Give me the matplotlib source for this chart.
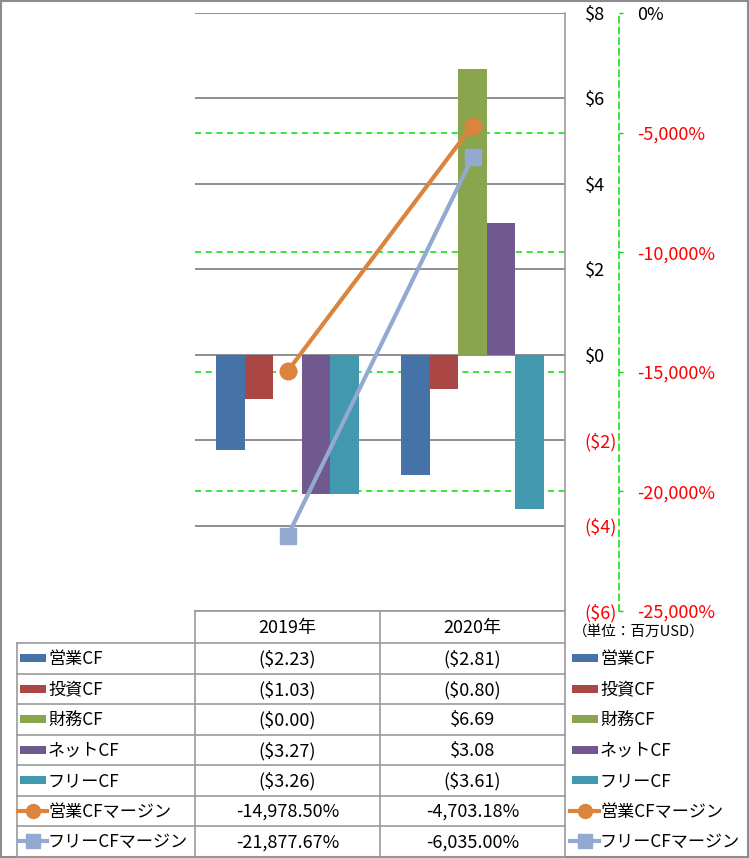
import matplotlib
matplotlib.use('Agg')
import matplotlib.pyplot as plt
from matplotlib.patches import Rectangle
from matplotlib.lines import Line2D
from matplotlib.transforms import blended_transform_factory

plt.rcParams['font.family'] = ['Noto Sans CJK JP', 'DejaVu Sans']

# Data
years = ['2019年', '2020年']
bar_names = ['営業CF', '投資CF', '財務CF', 'ネットCF', 'フリーCF']
bar_values = [
    [-2.23, -2.81],
    [-1.03, -0.80],
    [-0.002, 6.69],
    [-3.27, 3.08],
    [-3.26, -3.61],
]
bar_colors = ['#4572A7', '#AA4643', '#89A54E', '#71588F', '#4198AF']
line_names = ['営業CFマージン', 'フリーCFマージン']
line_values = [
    [-14978.50, -4703.18],
    [-21877.67, -6035.00],
]
line_colors = ['#DB843D', '#93A9CF']
line_markers = ['o', 's']
money_ticks = [-6, -4, -2, 0, 2, 4, 6, 8]
pct_ticks = [-25000, -20000, -15000, -10000, -5000, 0]
unit_note = '（単位：百万USD）'

W, H = 749, 858
fig = plt.figure(figsize=(W / 100, H / 100), dpi=100)


def fx(px):
    return px / W


def fy(py):
    return 1 - py / H


# plot area in pixels
pl, pr, pt, pb = 195, 565, 13, 611
ax = fig.add_axes([fx(pl), fy(pb), fx(pr - pl), (pb - pt) / H])
ax2 = ax.twinx()
# spine position first, it resets the ticks
ax2.spines['right'].set_position(('outward', 54 * 0.72))

n = len(bar_names)
w = 1 / (n + 1.5)
xs = list(range(len(years)))
for i, (name, vals, c) in enumerate(zip(bar_names, bar_values, bar_colors)):
    ax.bar([x + (i - (n - 1) / 2) * w for x in xs], vals, width=w, color=c, zorder=3)

ax.set_xlim(-0.5, len(years) - 0.5)
ax.set_ylim(min(money_ticks), max(money_ticks))
ax.set_xticks([])
ax.set_yticks(money_ticks)
ax.yaxis.tick_right()
ax.set_yticklabels(['$%d' % t if t >= 0 else '($%d)' % -t for t in money_ticks])
for lab, t in zip(ax.get_yticklabels(), money_ticks):
    lab.set_color('black' if t >= 0 else 'red')
ax.tick_params(axis='y', length=0, pad=14, labelsize=13)
for t in money_ticks:
    ax.axhline(t, color='#868686', lw=1.3, zorder=1)
for s in ['left', 'top', 'bottom', 'right']:
    ax.spines[s].set_visible(False)

# secondary gridlines under the bars
trans = blended_transform_factory(ax.transAxes, ax2.transData)
for t in pct_ticks[1:-1]:
    ax.plot([0, 1], [t, t], transform=trans, color='#00E000', lw=1.1,
            ls=(0, (4, 3)), zorder=2)

for name, vals, c, m in zip(line_names, line_values, line_colors, line_markers):
    ax2.plot(xs, vals, color=c, lw=3, marker=m, markersize=12,
             markeredgecolor=c, zorder=5)

ax2.set_ylim(min(pct_ticks), max(pct_ticks))
ax2.set_yticks(pct_ticks)
ax2.set_yticklabels(['{:,}%'.format(t) for t in pct_ticks])
ax2.tick_params(axis='y', length=3, width=1, color='#00E000', pad=10, labelsize=13)
for lab, t in zip(ax2.get_yticklabels(), pct_ticks):
    lab.set_color('black' if t >= 0 else 'red')
for s in ['left', 'top', 'bottom']:
    ax2.spines[s].set_visible(False)
ax2.spines['right'].set_color('#00E000')
ax2.spines['right'].set_linestyle((0, (4, 3)))
ax2.spines['right'].set_linewidth(1.1)

# overlay in pixel coordinates for the data table and legends
lay = fig.add_axes([0, 0, 1, 1], zorder=10)
lay.set_xlim(0, W)
lay.set_ylim(H, 0)
lay.axis('off')
lay.patch.set_visible(False)

gc = '#8C8C8C'
lay.add_patch(Rectangle((0.5, 0.5), W - 1.5, H - 1.5, fill=False, ec=gc, lw=1.5))

col_x = [17, 195, 380, 565]
head_top, head_bot = 611, 643
row_h = 30.5
nrows = n + len(line_names)
rows_y = [head_bot + k * row_h for k in range(nrows + 1)]

lc = '#9A9A9A'
lay.plot([col_x[1], col_x[3]], [head_top, head_top], color=lc, lw=1.2)
lay.plot([col_x[3], col_x[3]], [pt, rows_y[-1]], color=lc, lw=1.2)
for x in col_x[1:3]:
    lay.plot([x, x], [head_top, rows_y[-1]], color=lc, lw=1.2)
lay.plot([col_x[0], col_x[0]], [head_bot, rows_y[-1]], color=lc, lw=1.2)
for y in rows_y:
    lay.plot([col_x[0], col_x[3]], [y, y], color=lc, lw=1.2)

centers = [(col_x[1] + col_x[2]) / 2, (col_x[2] + col_x[3]) / 2]
for j, yr in enumerate(years):
    lay.text(centers[j], (head_top + head_bot) / 2 + 1, yr, ha='center', va='center', fontsize=13)

lay.text(573, 632, unit_note, ha='left', va='center', fontsize=10.5)


def money(v):
    return '($%.2f)' % -v if v < 0 else '$%.2f' % v


labels = bar_names + line_names
for k in range(nrows):
    yc = (rows_y[k] + rows_y[k + 1]) / 2
    if k < n:
        vals = [money(v) for v in bar_values[k]]
    else:
        vals = ['{:,.2f}%'.format(v) for v in line_values[k - n]]
    for j in range(len(years)):
        lay.text(centers[j], yc + 1, vals[j], ha='center', va='center', fontsize=13)
    for sx, tx in [(20, 48), (572, 600)]:
        if k < n:
            lay.add_patch(Rectangle((sx, yc - 4), 25.5, 8, color=bar_colors[k], lw=0))
        else:
            c = line_colors[k - n]
            lay.add_line(Line2D([sx - 2, sx + 27], [yc, yc], color=c, lw=3))
            lay.add_line(Line2D([sx + 12.5], [yc], color=c, marker=line_markers[k - n],
                                markersize=10, markeredgecolor=c))
        lay.text(tx, yc + 1, labels[k], ha='left', va='center', fontsize=12.3)

fig.savefig('out.png', dpi=100)
